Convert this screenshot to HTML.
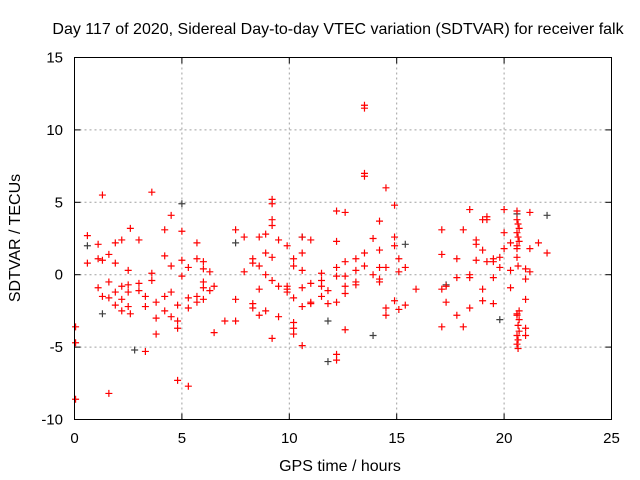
<!DOCTYPE html>
<html><head><meta charset="utf-8"><style>
body{margin:0;background:#fff}
svg{display:block;font-family:"Liberation Sans",sans-serif}
</style></head><body>
<svg id="chart" width="640" height="480" viewBox="0 0 640 480" xmlns="http://www.w3.org/2000/svg">
<rect width="640" height="480" fill="#fff"/>
<text x="338" y="34" text-anchor="middle" font-size="16">Day 117 of 2020, Sidereal Day-to-day VTEC variation (SDTVAR) for receiver falk</text>
<g id="grid"></g>
<g id="ticks"></g>
<g id="points"></g>
<rect x="74.5" y="57.5" width="537" height="362" fill="none" stroke="#000" stroke-width="1"/>
<text x="340" y="471" text-anchor="middle" font-size="16">GPS time / hours</text>
<text transform="translate(20,238) rotate(-90)" text-anchor="middle" font-size="16">SDTVAR / TECUs</text>
</svg>
<script>
const xTicks=[0,5,10,15,20,25];
const yTicks=[-10,-5,0,5,10,15];
const redX=[0.05,0.05,0.05,0.6,0.6,1.1,1.1,1.1,1.3,1.3,1.3,1.6,1.6,1.6,1.6,1.9,1.9,1.9,1.9,2.2,2.2,2.2,2.2,2.5,2.5,2.5,2.5,2.6,2.6,3.0,3.0,3.0,3.3,3.3,3.3,3.6,3.6,3.6,3.8,3.8,3.8,4.2,4.2,4.2,4.2,4.5,4.5,4.5,4.5,4.8,4.8,4.8,4.8,5.0,5.0,5.0,5.3,5.3,5.3,5.3,5.7,5.7,5.7,5.7,6.0,6.0,6.0,6.0,6.0,6.3,6.3,6.5,6.5,7.0,7.5,7.5,7.5,7.9,7.9,8.3,8.3,8.3,8.3,8.6,8.6,8.6,8.6,8.9,8.9,8.9,8.9,9.2,9.2,9.2,9.2,9.2,9.2,9.2,9.5,9.5,9.5,9.9,9.9,9.9,9.9,10.2,10.2,10.2,10.2,10.2,10.2,10.6,10.6,10.6,10.6,10.6,10.6,11.0,11.0,11.0,11.0,11.5,11.5,11.5,11.5,11.8,11.8,12.2,12.2,12.2,12.2,12.2,12.2,12.2,12.6,12.6,12.6,12.6,12.6,12.6,13.1,13.1,13.1,13.1,13.5,13.5,13.5,13.5,13.5,13.5,13.9,13.9,14.2,14.2,14.2,14.2,14.2,14.5,14.5,14.5,14.5,14.9,14.9,14.9,14.9,15.1,15.1,15.1,15.4,15.4,15.9,17.1,17.1,17.1,17.1,17.3,17.3,17.8,17.8,17.8,18.1,18.1,18.4,18.4,18.4,18.4,18.7,18.7,18.7,19.0,19.0,19.0,19.0,19.2,19.2,19.2,19.5,19.5,19.5,19.5,19.8,19.8,20.0,20.0,20.0,20.3,20.3,20.3,20.6,20.6,20.65,20.7,20.6,20.65,20.7,20.6,20.65,20.7,20.6,20.7,20.65,20.7,20.6,20.65,20.6,20.65,20.6,20.6,20.6,21.0,21.0,21.0,21.0,21.0,21.2,21.2,21.2,21.6,22.0,22.0,22.0];
const redY=[-3.6,-4.7,-8.6,2.7,0.8,1.1,2.1,-0.9,5.5,-1.5,1.0,-8.2,-0.5,-1.6,1.4,2.2,0.8,-1.2,-2.1,2.4,-0.8,-2.5,-1.7,-1.2,-0.7,0.3,-2.2,3.2,-2.7,2.4,-1.1,-0.6,-5.3,-1.5,-2.2,5.7,0.1,-0.4,-1.9,-4.1,-3.0,-1.5,-2.5,1.3,3.1,4.1,0.6,-1.2,-2.9,-3.7,-7.3,-3.2,-2.1,3.0,1.0,-0.1,-7.7,-2.3,-1.6,0.5,-1.9,2.2,1.1,-1.5,0.9,-0.9,0.4,-0.5,-1.7,-1.1,0.2,-4.0,-0.8,-3.2,-3.2,3.1,-1.7,2.6,0.2,-2.0,-2.3,0.8,1.1,-2.8,2.6,0.6,-1.0,2.8,-2.5,0.0,1.5,5.2,4.9,3.8,3.4,1.2,-0.4,-4.4,-2.9,2.4,-0.8,-1.0,-0.8,-1.2,2.0,-3.3,-3.7,-4.1,0.6,1.1,-1.6,2.6,1.5,-4.9,0.3,-0.9,-2.2,2.4,-1.9,-0.6,-2.0,0.1,-0.4,-1.5,-0.8,-1.1,-2.0,4.4,2.3,0.5,-0.1,-1.9,-5.5,-5.9,4.3,0.9,-0.1,-1.3,-0.8,-3.8,1.1,-0.7,-0.5,0.3,11.7,11.5,7.0,6.8,1.5,0.6,2.5,0.0,3.7,1.7,-0.3,0.5,-0.5,6.0,-2.3,-2.8,0.5,4.8,2.6,2.0,-1.8,1.1,0.2,-2.4,0.5,-2.1,-1.0,3.1,1.4,-1.0,-3.6,-0.8,-1.9,1.1,-0.2,-2.8,3.1,-3.6,4.5,-0.2,-2.3,0.0,2.4,1.0,2.1,-1.8,-1.0,1.7,3.8,4.0,3.8,0.9,1.1,-0.2,-2.0,0.9,1.2,0.5,4.5,2.9,1.8,2.2,0.3,-0.9,4.4,3.8,3.5,3.2,2.9,2.6,2.3,2.0,0.6,-2.5,-2.8,-3.1,-3.5,-3.9,-4.2,-4.5,-4.8,-5.1,-2.7,1.8,1.2,0.4,-0.3,-1.7,-3.7,-4.2,0.2,1.8,4.3,2.2,1.5];
const grayX=[0.6,1.3,2.8,5.0,7.5,10.6,11.8,11.8,13.9,15.4,17.3,19.8,22.0,20.6];
const grayY=[2.0,-2.7,-5.2,4.9,2.2,2.6,-3.2,-6.0,-4.2,2.1,-0.7,-3.1,4.1,4.2];
const X0=74.5,X1=611.5,Y0=419.5,Y1=57.5;
const sx=v=>X0+(v-0)/25*(X1-X0);
const sy=v=>Y0-(v+10)/25*(Y0-Y1);
const NS="http://www.w3.org/2000/svg";
function mk(t,a,p){const e=document.createElementNS(NS,t);for(const k in a)e.setAttribute(k,a[k]);p.appendChild(e);return e;}
const grid=document.getElementById('grid'),ticks=document.getElementById('ticks'),pts=document.getElementById('points');
xTicks.forEach(v=>{const x=sx(v);
 if(v>0&&v<25){const g=mk('line',{x1:x,x2:x,y1:Y1,y2:Y0,stroke:'#a0a0a0','stroke-dasharray':'2,3'},grid);
 
 }
 mk('line',{x1:x,x2:x,y1:Y0,y2:Y0-6,stroke:'#000'},ticks);
 mk('line',{x1:x,x2:x,y1:Y1,y2:Y1+6,stroke:'#000'},ticks);
 const t=mk('text',{x:x,y:443,'text-anchor':'middle','font-size':'15'},ticks);t.textContent=v;
 
 });
yTicks.forEach(v=>{const y=sy(v);
 if(v>-10&&v<15){const g=mk('line',{x1:X0,x2:X1,y1:y,y2:y,stroke:'#a0a0a0','stroke-dasharray':'2,3'},grid);
 
 }
 mk('line',{x1:X0,x2:X0+6,y1:y,y2:y,stroke:'#000'},ticks);
 mk('line',{x1:X1,x2:X1-6,y1:y,y2:y,stroke:'#000'},ticks);
 const t=mk('text',{x:63,y:y+5,'text-anchor':'end','font-size':'15'},ticks);t.textContent=v;
 
 });
function plus(x,y,c,name){const p=mk('path',{d:`M${x-3.5},${y}h7M${x},${y-3.5}v7`,stroke:c,'stroke-width':'1.2',fill:'none'},pts);
 
 }
grayX.forEach((v,i)=>plus(sx(v),sy(grayY[i]),'#404040','gray-point'));
redX.forEach((v,i)=>plus(sx(v),sy(redY[i]),'#ff0000','red-point'));
</script>
</body></html>
